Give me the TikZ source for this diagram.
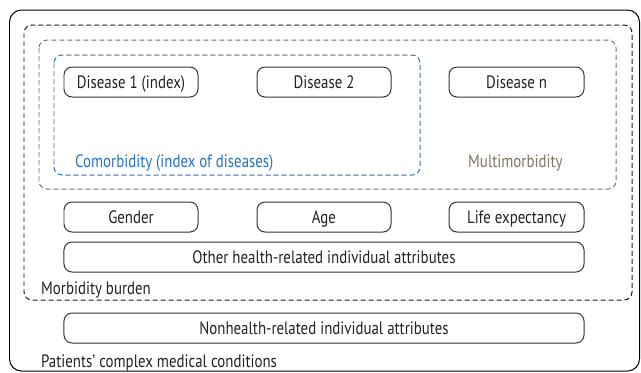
\documentclass[tikz,border=0pt]{standalone}
\usepackage{fontspec}
\setmainfont[FakeStretch=0.83]{PT Sans}
\usetikzlibrary{positioning}
\definecolor{txt}{HTML}{222222}
\definecolor{boxc}{HTML}{333333}
\definecolor{cblue}{HTML}{2A6FB8}
\definecolor{cbrown}{HTML}{7D7366}
\tikzset{
  lbl/.style={inner sep=0pt, anchor=base west, font=\fontsize{18}{19}\selectfont, text=txt},
  pill/.style={draw=boxc, line width=1pt, rounded corners=8bp, inner sep=0pt,
     minimum height=30bp, text height=12.6bp, text depth=0pt,
     font=\fontsize{18}{19}\selectfont, text=txt},
  dsh/.style={dash pattern=on 5bp off 3bp, line width=1pt, rounded corners=8bp}
}
\begin{document}
\begin{tikzpicture}[x=1bp,y=-1bp]
\useasboundingbox (0,0) rectangle (641,372);
% outer box
\draw[black, line width=1pt, rounded corners=12bp] (9.5,10) rectangle (639.5,371);
% morbidity burden
\draw[dsh, black!90] (24,25) rectangle (632,300);
% multimorbidity
\draw[dsh, cbrown] (39,40) rectangle (616,189);
% comorbidity
\draw[dsh, cblue] (54,55) rectangle (420,175);
% disease boxes
\node[pill, minimum width=134bp] (d1) at (131,82) {Disease 1 (index)};
\node[pill, minimum width=134bp] (d2) at (324,82) {Disease 2};
\node[pill, minimum width=135bp] (dn) at (516.5,82) {Disease n};
\node[lbl, text=cblue] (como) at (75,167) {Comorbidity (index of diseases)};
\node[lbl, text=cbrown] (multi) at (468,167) {Multimorbidity};
% attributes
\node[pill, minimum width=134bp] (gender) at (131,217) {Gender};
\node[pill, minimum width=134bp] (age) at (324,217) {Age};
\node[pill, minimum width=135bp] (life) at (516.5,217) {Life expectancy};
\node[pill, minimum width=520bp] (other) at (324,257) {Other health-related individual attributes};
\node[lbl] (burden) at (41,294) {Morbidity burden};
\node[pill, minimum width=520bp] (nonh) at (324,328) {Nonhealth-related individual attributes};
\node[lbl] (pat) at (41,367) {Patients’ complex medical conditions};
\end{tikzpicture}
\end{document}
